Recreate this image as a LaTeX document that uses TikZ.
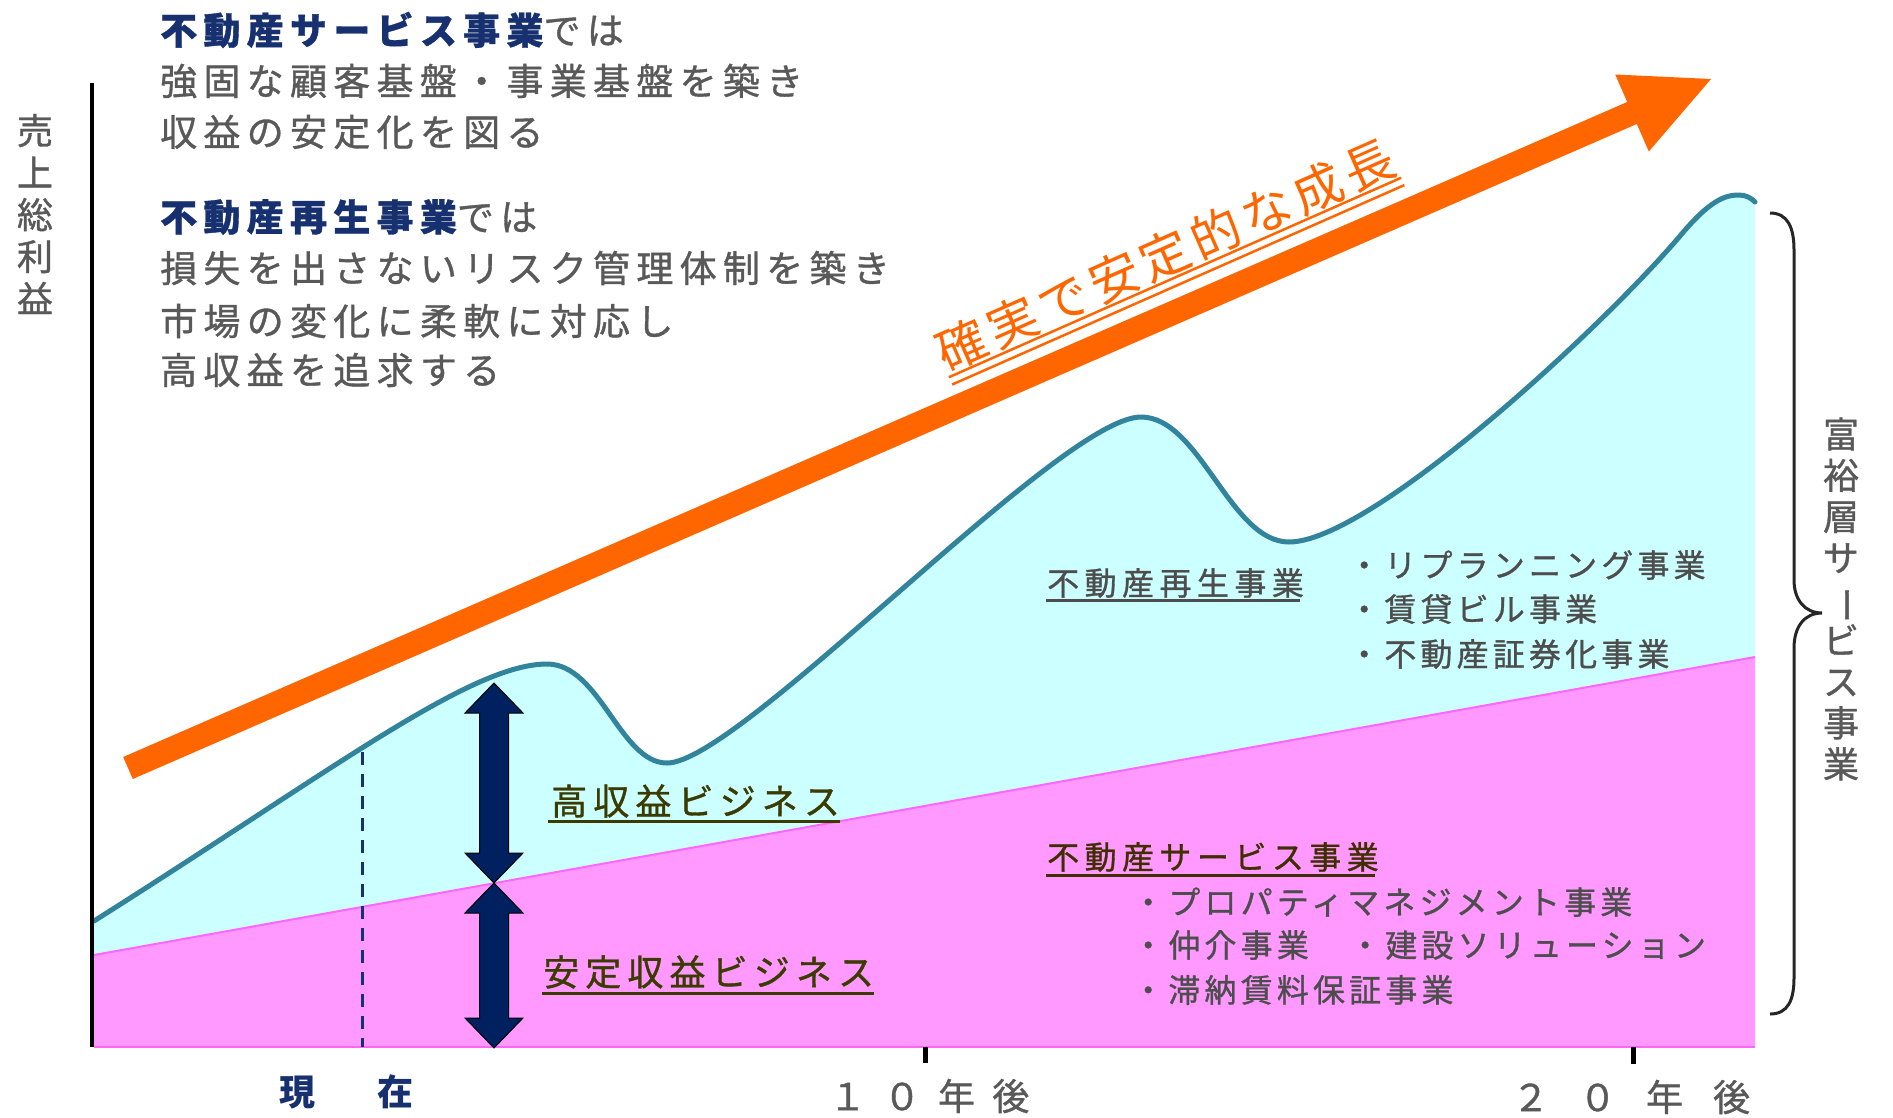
\documentclass[tikz,border=0pt]{standalone}
\usepackage{fontspec}
\usepackage{graphicx}
\usetikzlibrary{calc}
\setmainfont{Noto Sans CJK JP}
\newfontfamily\fTop[LetterSpace=17,FakeBold=1]{Noto Sans CJK JP}
\newfontfamily\fLab[LetterSpace=17,FakeBold=1]{Noto Sans CJK JP}
\newfontfamily\fHead[LetterSpace=17,FakeBold=1]{Noto Sans CJK JP}
\newfontfamily\fItem[LetterSpace=13,FakeBold=1]{Noto Sans CJK JP}
\newfontfamily\fNow[LetterSpace=37]{Noto Sans CJK JP}
\newfontfamily\fTen[LetterSpace=47,FakeBold=1]{Noto Sans CJK JP}
\newfontfamily\fTwenty[LetterSpace=81,FakeBold=1]{Noto Sans CJK JP}
\newfontfamily\fGrow[LetterSpace=11]{Noto Sans CJK JP}
\newfontfamily\fVert[FakeBold=1]{Noto Sans CJK JP}
\definecolor{cyanF}{HTML}{CCFFFF}
\definecolor{pinkF}{HTML}{FF99FF}
\definecolor{pinkL}{HTML}{FF66FF}
\definecolor{tealC}{HTML}{31849B}
\definecolor{orangeC}{HTML}{FF6600}
\definecolor{navyA}{HTML}{002060}
\definecolor{navyT}{HTML}{17306F}
\definecolor{grayT}{HTML}{595959}
\definecolor{grayR}{HTML}{4D4D4D}
\definecolor{oliveT}{HTML}{3B3B00}
\definecolor{brownT}{HTML}{402E00}
\begin{document}
\begin{tikzpicture}[x=1pt,y=-1pt,
  para/.style={anchor=west,inner sep=0pt,text=grayT,font=\fTop\fontsize{37}{44}\selectfont},
  biz/.style={anchor=west,inner sep=0pt,text=oliveT,font=\fLab\fontsize{36}{40}\selectfont},
  headtxt/.style={anchor=west,inner sep=0pt,font=\fHead\fontsize{32}{36}\selectfont},
  item/.style={anchor=west,inner sep=0pt,text=grayR,font=\fItem\fontsize{32}{36}\selectfont},
  axl/.style={anchor=west,inner sep=0pt,text=grayT},
  vtext/.style={inner sep=0pt,align=center,text=grayT},
  dbl/.style={fill=navyA,draw=black,line width=1pt,line join=miter}]
\useasboundingbox (0,0) rectangle (1893,1117);

% cyan area under the curve
\fill[cyanF] (94,1047) -- (94,921)
  .. controls (330,772) and (470,664) .. (547,664)
  .. controls (600,664) and (620,763) .. (667,763)
  .. controls (740,763) and (1060,417) .. (1141,417)
  .. controls (1200,417) and (1230,542) .. (1289,542)
  .. controls (1370,542) and (1600,330) .. (1680,236)
  .. controls (1710,200) and (1725,195) .. (1739,195)
  .. controls (1746,195) and (1751,198) .. (1755,202)
  -- (1755,1047) -- cycle;
% pink area
\fill[pinkF] (94,955) -- (1755,657) -- (1755,1047) -- (94,1047) -- cycle;
\draw[pinkL,line width=2pt] (94,955) -- (1755,657);
\draw[pinkL,line width=2.5pt] (94,1047) -- (1755,1047);

% curve
\draw[tealC,line width=5pt,line cap=round] (94,921)
  .. controls (330,772) and (470,664) .. (547,664)
  .. controls (600,664) and (620,763) .. (667,763)
  .. controls (740,763) and (1060,417) .. (1141,417)
  .. controls (1200,417) and (1230,542) .. (1289,542)
  .. controls (1370,542) and (1600,330) .. (1680,236)
  .. controls (1710,200) and (1725,195) .. (1739,195)
  .. controls (1746,195) and (1751,198) .. (1755,202);

% axis and ticks
\coordinate (yTop) at (92,83);
\coordinate (origin) at (92,1047);
\draw[black,line width=4pt] (yTop) -- (origin);
\coordinate (t10) at (925,1047);
\coordinate (t20) at (1633,1047);
\draw[black,line width=5pt] (t10) -- ++(0,16);
\draw[black,line width=5pt] (t20) -- ++(0,17);

% dashed "now" line
\coordinate (nowTop) at (362,752);
\coordinate (nowBase) at (362,1047);
\draw[navyT,line width=3pt,dash pattern=on 13pt off 9pt] (nowTop) -- (nowBase);

% double arrows
\coordinate (hiTop) at (494,683);
\coordinate (split) at (494,883);
\coordinate (base) at (494,1048);
\filldraw[dbl] (hiTop) -- ++(29,30) -- ++(-14.5,0) -- ($(split)+(14.5,-30)$) -- ++(14.5,0) -- (split)
  -- ++(-29,-30) -- ++(14.5,0) -- ($(hiTop)+(-14.5,30)$) -- ++(-14.5,0) -- cycle;
\filldraw[dbl] (split) -- ++(29,30) -- ++(-14.5,0) -- ($(base)+(14.5,-30)$) -- ++(14.5,0) -- (base)
  -- ++(-29,-30) -- ++(14.5,0) -- ($(split)+(-14.5,30)$) -- ++(-14.5,0) -- cycle;

% orange growth arrow
\fill[orangeC] (123.2,757) -- (1627.2,102) -- (1615.2,74.5) -- (1711,79) -- (1648.8,151.5)
  -- (1636.8,124) -- (132.8,779) -- cycle;
\node[rotate=23.8,anchor=south,inner xsep=0pt,inner ysep=1pt,text=orangeC,
  font=\fGrow\fontsize{50}{56}\selectfont] (grow) at (1175,277.5) {確実で安定的な成長};
\draw[orangeC,line width=2.5pt] (grow.south west) -- (grow.south east);
\draw[orangeC,line width=2.5pt] ($(grow.south west)!8pt!-90:(grow.south east)$)
  -- ($(grow.south east)!8pt!90:(grow.south west)$);

% top-left texts
\node[para] (s1) at (160,30) {\textcolor{navyT}{\bfseries 不動産サービス事業}では};
\node[para] (s2) at (160,81) {強固な顧客基盤・事業基盤を築き};
\node[para] (s3) at (160,132) {収益の安定化を図る};
\node[para] (r1) at (160,217) {\textcolor{navyT}{\bfseries 不動産再生事業}では};
\node[para] (r2) at (160,268) {損失を出さないリスク管理体制を築き};
\node[para] (r3) at (160,321) {市場の変化に柔軟に対応し};
\node[para] (r4) at (160,370) {高収益を追求する};

% vertical axis label
\node[vtext,font=\fVert\fontsize{36}{42}\selectfont] (ylab) at (35,214) {売\\上\\総\\利\\益};

% business labels
\node[biz] (hi) at (551,801) {高収益ビジネス};
\draw[oliveT,line width=3pt] ($(hi.west)+(-3,20)$) -- ($(hi.east)+(0,20)$);
\node[biz] (st) at (543,972) {安定収益ビジネス};
\draw[oliveT,line width=3pt] ($(st.west)+(-1,21)$) -- ($(st.east)+(0,21)$);

% right texts
\node[headtxt,text=grayR] (regen) at (1047,583) {不動産再生事業};
\draw[grayR,line width=3pt] ($(regen.west)+(-1,17)$) -- ($(regen.east)+(-4,17)$);
\node[item] (i1) at (1348,565) {・リプランニング事業};
\node[item] (i2) at (1348,609) {・賃貸ビル事業};
\node[item] (i3) at (1348,654) {・不動産証券化事業};
\node[headtxt,text=brownT] (serv) at (1047,857) {不動産サービス事業};
\draw[brownT,line width=3pt] ($(serv.west)+(-1,18)$) -- ($(serv.east)+(-4,18)$);
\node[item] (j1) at (1132,902) {・プロパティマネジメント事業};
\node[item] (j2) at (1132,945) {・仲介事業　・建設ソリューション};
\node[item] (j3) at (1132,990) {・滞納賃料保証事業};

% brace and its label
\coordinate (brTop) at (1770,213);
\coordinate (brTip) at (1822,613);
\coordinate (brBot) at (1770,1014);
\draw[black!85,line width=3pt] (brTop) .. controls (1788,213) and (1794,228) .. (1794,250)
  -- (1794,580) .. controls (1794,600) and (1805,613) .. (brTip)
  .. controls (1805,613) and (1794,626) .. (1794,648)
  -- (1794,978) .. controls (1794,1000) and (1788,1014) .. (brBot);
\node[vtext,font=\fVert\fontsize{36}{41.25}\selectfont] (brlab) at (1841,599)
  {富\\裕\\層\\サ\\\rotatebox[origin=c]{-90}{ー}\\ビ\\ス\\事\\業};

% time axis labels
\node[axl,text=navyT,font=\fNow\bfseries\fontsize{36}{40}\selectfont] (now) at (279,1092) {現　在};
\node[axl,font=\fTen\fontsize{37}{40}\selectfont] (ten) at (829,1096) {１０年後};
\node[axl,font=\fTwenty\fontsize{37}{40}\selectfont] (twenty) at (1512,1097) {２０年後};
\end{tikzpicture}
\end{document}
